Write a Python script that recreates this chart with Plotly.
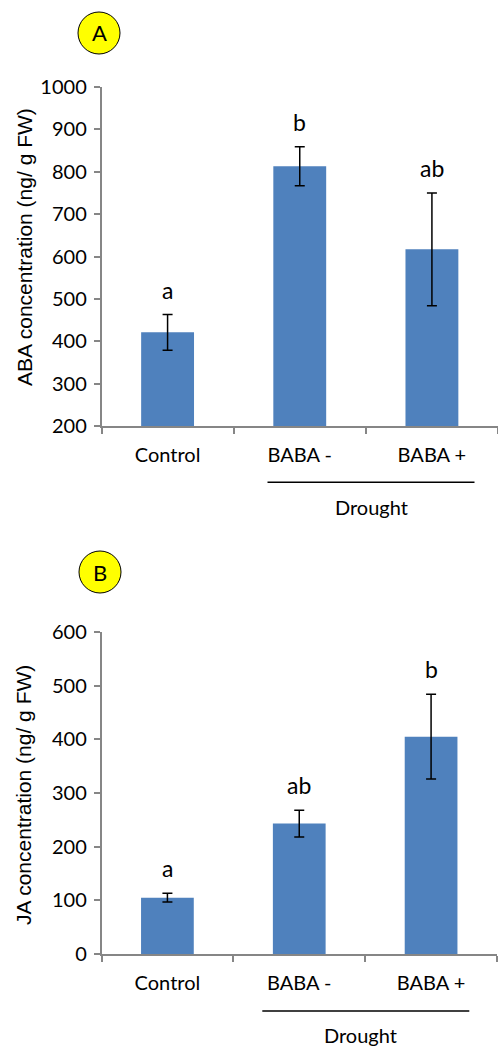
import plotly.graph_objects as go

W, H = 498, 1048

categories = ["Control", "BABA -", "BABA +"]
aba_values = [421, 813, 617]
aba_errors = [42, 46, 133]
aba_letters = ["a", "b", "ab"]
ja_values = [105, 243, 405]
ja_errors = [8, 25, 79]
ja_letters = ["a", "ab", "b"]

BAR = "#4F81BD"
AXC = "#868686"
FONT = "Lato"


def px(x):
    return x / W


def py(y):
    return 1 - y / H


fig = go.Figure()
fig.add_trace(go.Bar(
    x=categories, y=aba_values, xaxis="x", yaxis="y",
    marker=dict(color=BAR, line=dict(width=0)), width=0.4,
    error_y=dict(type="data", array=aba_errors, color="black", thickness=1.5, width=5),
))
fig.add_trace(go.Bar(
    x=categories, y=ja_values, xaxis="x2", yaxis="y2",
    marker=dict(color=BAR, line=dict(width=0)), width=0.4,
    error_y=dict(type="data", array=ja_errors, color="black", thickness=1.5, width=5),
))

xcommon = dict(type="category", showline=True, linecolor=AXC, linewidth=1.5,
               ticks="outside", tickson="boundaries", ticklen=6, tickcolor=AXC, tickwidth=1.5,
               tickfont=dict(family=FONT, size=20, color="black"), showgrid=False,
               zeroline=False, range=[-0.5, 2.5], ticklabelstandoff=10, automargin=False)
ycommon = dict(showline=True, linecolor=AXC, linewidth=1.5, ticks="outside", ticklen=6,
               tickcolor=AXC, tickwidth=1.5, tickfont=dict(family=FONT, size=20, color="black"),
               showgrid=False, zeroline=False, dtick=100, ticklabelstandoff=3, automargin=False)

fig.update_layout(
    width=W, height=H, margin=dict(l=0, r=0, t=0, b=0, autoexpand=False),
    paper_bgcolor="white", plot_bgcolor="white", showlegend=False,
    xaxis=dict(xcommon, domain=[px(101.5), 1.0], anchor="y"),
    yaxis=dict(ycommon, domain=[py(426), py(87)], range=[200, 1000], anchor="x"),
    xaxis2=dict(xcommon, domain=[px(101.5), px(497)], anchor="y2"),
    yaxis2=dict(ycommon, domain=[py(954), py(632)], range=[0, 600], anchor="x2"),
)

ann = []
for c, v, e, t in zip(categories, aba_values, aba_errors, aba_letters):
    ann.append(dict(x=c, y=v + e, xref="x", yref="y", text=t, showarrow=False,
                    xanchor="center", yanchor="bottom", yshift=9,
                    font=dict(family=FONT, size=23, color="black")))
for c, v, e, t in zip(categories, ja_values, ja_errors, ja_letters):
    ann.append(dict(x=c, y=v + e, xref="x2", yref="y2", text=t, showarrow=False,
                    xanchor="center", yanchor="bottom", yshift=9,
                    font=dict(family=FONT, size=23, color="black")))


def label(xp, yp, text, size, family=FONT, angle=0):
    return dict(x=px(xp), y=py(yp), xref="paper", yref="paper", text=text,
                showarrow=False, xanchor="center", yanchor="middle", textangle=angle,
                font=dict(family=family, size=size, color="black"))


# y axis titles
ann.append(label(24, 247, "ABA concentration (ng/ g FW)", 21, "Liberation Sans", -90))
ann.append(label(24, 795, "JA concentration (ng/ g FW)", 21, "Liberation Sans", -90))
# Drought group labels
ann.append(label(371, 507, "Drought", 20))
ann.append(label(360, 1035, "Drought", 20))
# Panel letters
ann.append(label(99, 33, "A", 22))
ann.append(label(100, 572, "B", 22))

shapes = [
    dict(type="circle", xref="paper", yref="paper", x0=px(78), x1=px(120), y0=py(54), y1=py(12),
         fillcolor="#FFFF00", line=dict(color="black", width=1), layer="below"),
    dict(type="circle", xref="paper", yref="paper", x0=px(79), x1=px(121), y0=py(593), y1=py(551),
         fillcolor="#FFFF00", line=dict(color="black", width=1), layer="below"),
    dict(type="line", xref="paper", yref="paper", x0=px(267.5), x1=px(474.5), y0=py(482.3), y1=py(482.3),
         line=dict(color="black", width=1.5)),
    dict(type="line", xref="paper", yref="paper", x0=px(262.3), x1=px(469.3), y0=py(1011), y1=py(1011),
         line=dict(color="black", width=1.5)),
]
fig.update_layout(annotations=ann, shapes=shapes)

fig.write_html("out.html")
